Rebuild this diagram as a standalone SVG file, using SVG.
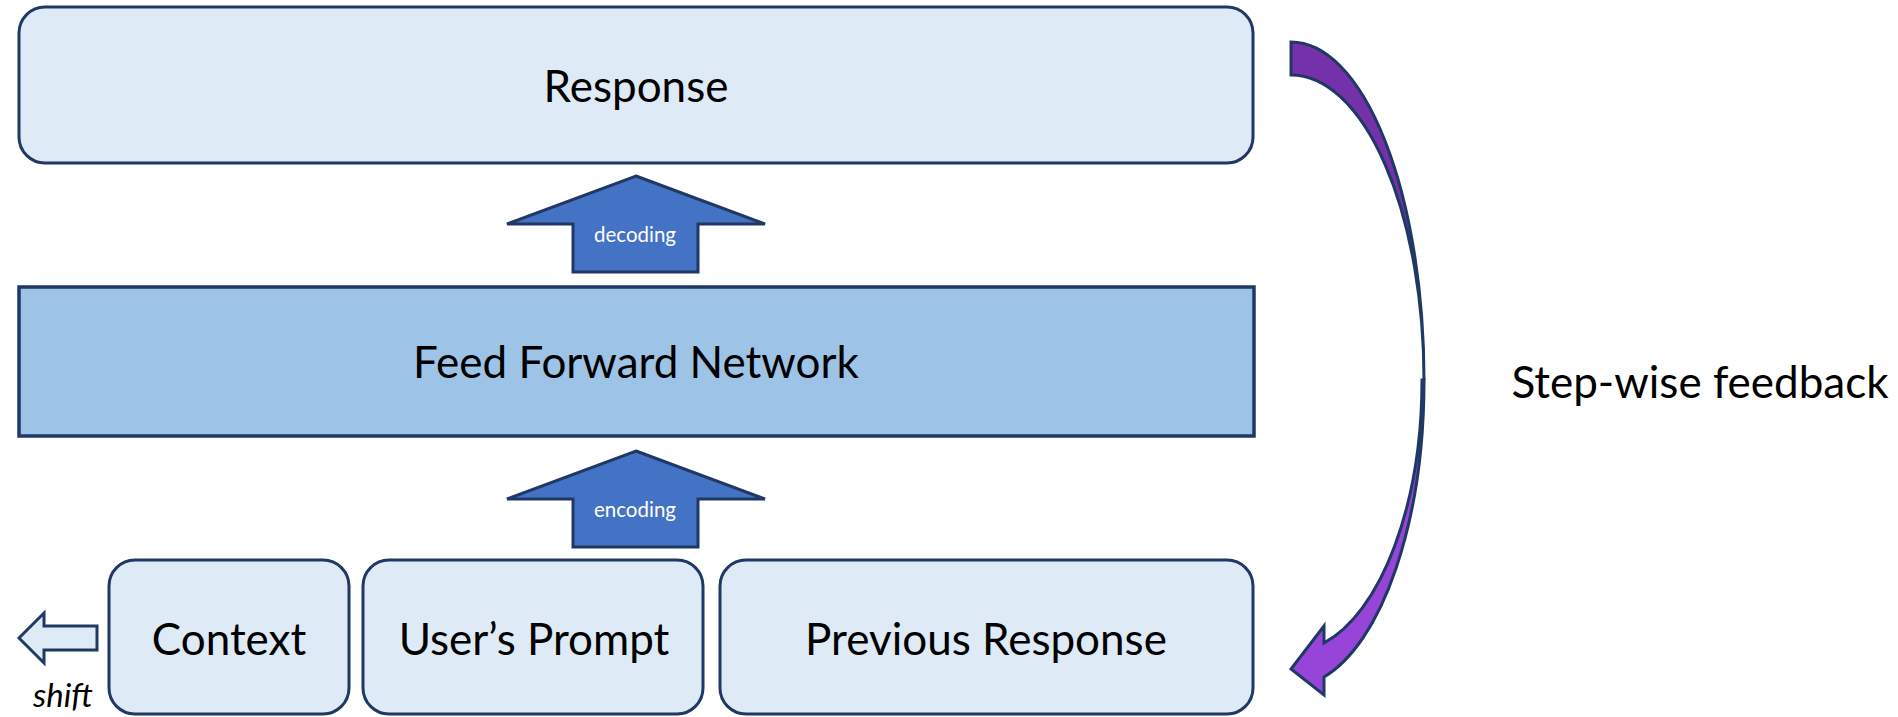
<svg xmlns="http://www.w3.org/2000/svg" width="1898" height="717" viewBox="0 0 1898 717">
<style>
  .box { fill: #DEEAF6; stroke: #1F3864; stroke-width: 3; }
  .ffn { fill: #9DC3E6; stroke: #1F3864; stroke-width: 3.5; }
  .uparrow { fill: #4472C4; stroke: #1F3864; stroke-width: 3; stroke-linejoin: miter; }
  .big { font-family: Lato, "Open Sans", sans-serif; font-size: 44px; fill: #000; text-anchor: middle; }
  .small { font-family: Lato, "Open Sans", sans-serif; font-size: 20.5px; fill: #FFFFFF; text-anchor: middle; }
  .shift { font-family: Lato, "Open Sans", sans-serif; font-size: 33px; font-style: italic; fill: #000; text-anchor: middle; }
  .curve { stroke: #1F3864; stroke-width: 3; stroke-linejoin: miter; }
</style>
<rect width="1898" height="717" fill="#FFFFFF"/>

<g id="response">
  <rect class="box" x="19" y="7" width="1234" height="156" rx="26" ry="26"/>
  <text class="big" x="636" y="102">Response</text>
</g>

<g id="ffn">
  <rect class="ffn" x="19" y="287" width="1235" height="149"/>
  <text class="big" x="636" y="378">Feed Forward Network</text>
</g>

<g id="context">
  <rect class="box" x="109" y="560" width="240" height="154" rx="26" ry="26"/>
  <text class="big" x="229" y="655">Context</text>
</g>

<g id="prompt">
  <rect class="box" x="363" y="560" width="340" height="154" rx="26" ry="26"/>
  <text class="big" x="534" y="655">User’s Prompt</text>
</g>

<g id="previous">
  <rect class="box" x="720" y="560" width="533" height="154" rx="26" ry="26"/>
  <text class="big" x="986" y="655">Previous Response</text>
</g>

<g id="feedback-label">
  <text class="big" x="1700" y="398">Step-wise feedback</text>
</g>

<g id="connectors">
  <g id="decoding">
    <polygon class="uparrow" points="636,176 765,224 698,224 698,272 573,272 573,224 507,224"/>
    <text class="small" x="635" y="242">decoding</text>
  </g>
  <g id="encoding">
    <polygon class="uparrow" points="636,451 765,499 698,499 698,547 573,547 573,499 507,499"/>
    <text class="small" x="635" y="517">encoding</text>
  </g>
  <g id="shift">
    <polygon class="box" points="19,638 44,613 44,626 97,626 97,650 44,650 44,663"/>
    <text class="shift" x="63" y="707">shift</text>
  </g>
  <g id="stepwise-arrow">
    <path class="curve" fill="#7431AA" d="M1291,42 A133,338 0 0 1 1424,380 A133,305 0 0 0 1291,75 Z"/>
    <path class="curve" fill="#9744D8" d="M1424,380 A133,306 0 0 1 1324,677 L1324,695 L1291,669 L1324,626 L1324,643 A131,272 0 0 0 1422,380 Z"/>
  </g>
</g>
</svg>
